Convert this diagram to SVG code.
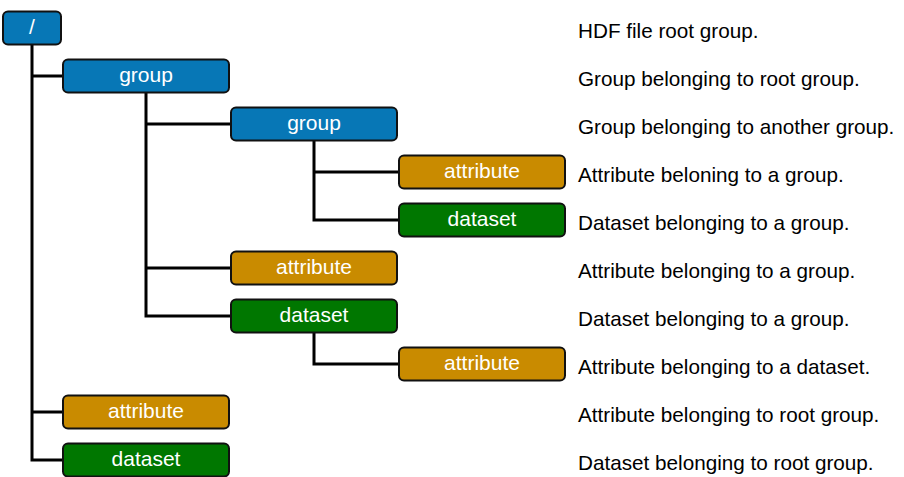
<svg xmlns="http://www.w3.org/2000/svg" width="904" height="477" viewBox="0 0 904 477">
<style>
.n rect{stroke:#111;stroke-width:2}
.g rect{fill:#0777b6}
.a rect{fill:#c98b00}
.d rect{fill:#007700}
.n text{fill:#fff;font-family:"Liberation Sans",Arial,sans-serif;font-size:21px;text-anchor:middle}
.desc{fill:#000;font-family:"Liberation Sans",Arial,sans-serif;font-size:20.7px}
#connectors path{fill:none;stroke:#000;stroke-width:3}
</style>
<rect width="904" height="477" fill="#fff"/>
<g id="connectors">
<path d="M32 44V460H63M32 412H63M32 76H63"/>
<path d="M146 93V316H231M146 268H231M146 124H231"/>
<path d="M314 141V220H399M314 172H399"/>
<path d="M314 333V364H399"/>
</g>
<g id="root" class="n g"><rect x="3" y="11.5" width="58" height="33" rx="5"/><text x="32" y="34">/</text></g>
<g id="group1" class="n g"><rect x="63" y="59.5" width="166" height="33" rx="5"/><text x="146" y="82">group</text></g>
<g id="group2" class="n g"><rect x="231" y="107.5" width="166" height="33" rx="5"/><text x="314" y="130">group</text></g>
<g id="attr1" class="n a"><rect x="399" y="155.5" width="166" height="33" rx="5"/><text x="482" y="178">attribute</text></g>
<g id="dataset1" class="n d"><rect x="399" y="203.5" width="166" height="33" rx="5"/><text x="482" y="226">dataset</text></g>
<g id="attr2" class="n a"><rect x="231" y="251.5" width="166" height="33" rx="5"/><text x="314" y="274">attribute</text></g>
<g id="dataset2" class="n d"><rect x="231" y="299.5" width="166" height="33" rx="5"/><text x="314" y="322">dataset</text></g>
<g id="attr3" class="n a"><rect x="399" y="347.5" width="166" height="33" rx="5"/><text x="482" y="370">attribute</text></g>
<g id="attr4" class="n a"><rect x="63" y="395.5" width="166" height="33" rx="5"/><text x="146" y="418">attribute</text></g>
<g id="dataset3" class="n d"><rect x="63" y="443.5" width="166" height="33" rx="5"/><text x="146" y="466">dataset</text></g>
<g id="descriptions" class="desc">
<text x="578" y="38">HDF file root group.</text>
<text x="578" y="86">Group belonging to root group.</text>
<text x="578" y="134">Group belonging to another group.</text>
<text x="578" y="182">Attribute beloning to a group.</text>
<text x="578" y="230">Dataset belonging to a group.</text>
<text x="578" y="278">Attribute belonging to a group.</text>
<text x="578" y="326">Dataset belonging to a group.</text>
<text x="578" y="374">Attribute belonging to a dataset.</text>
<text x="578" y="422">Attribute belonging to root group.</text>
<text x="578" y="470">Dataset belonging to root group.</text>
</g>
</svg>
